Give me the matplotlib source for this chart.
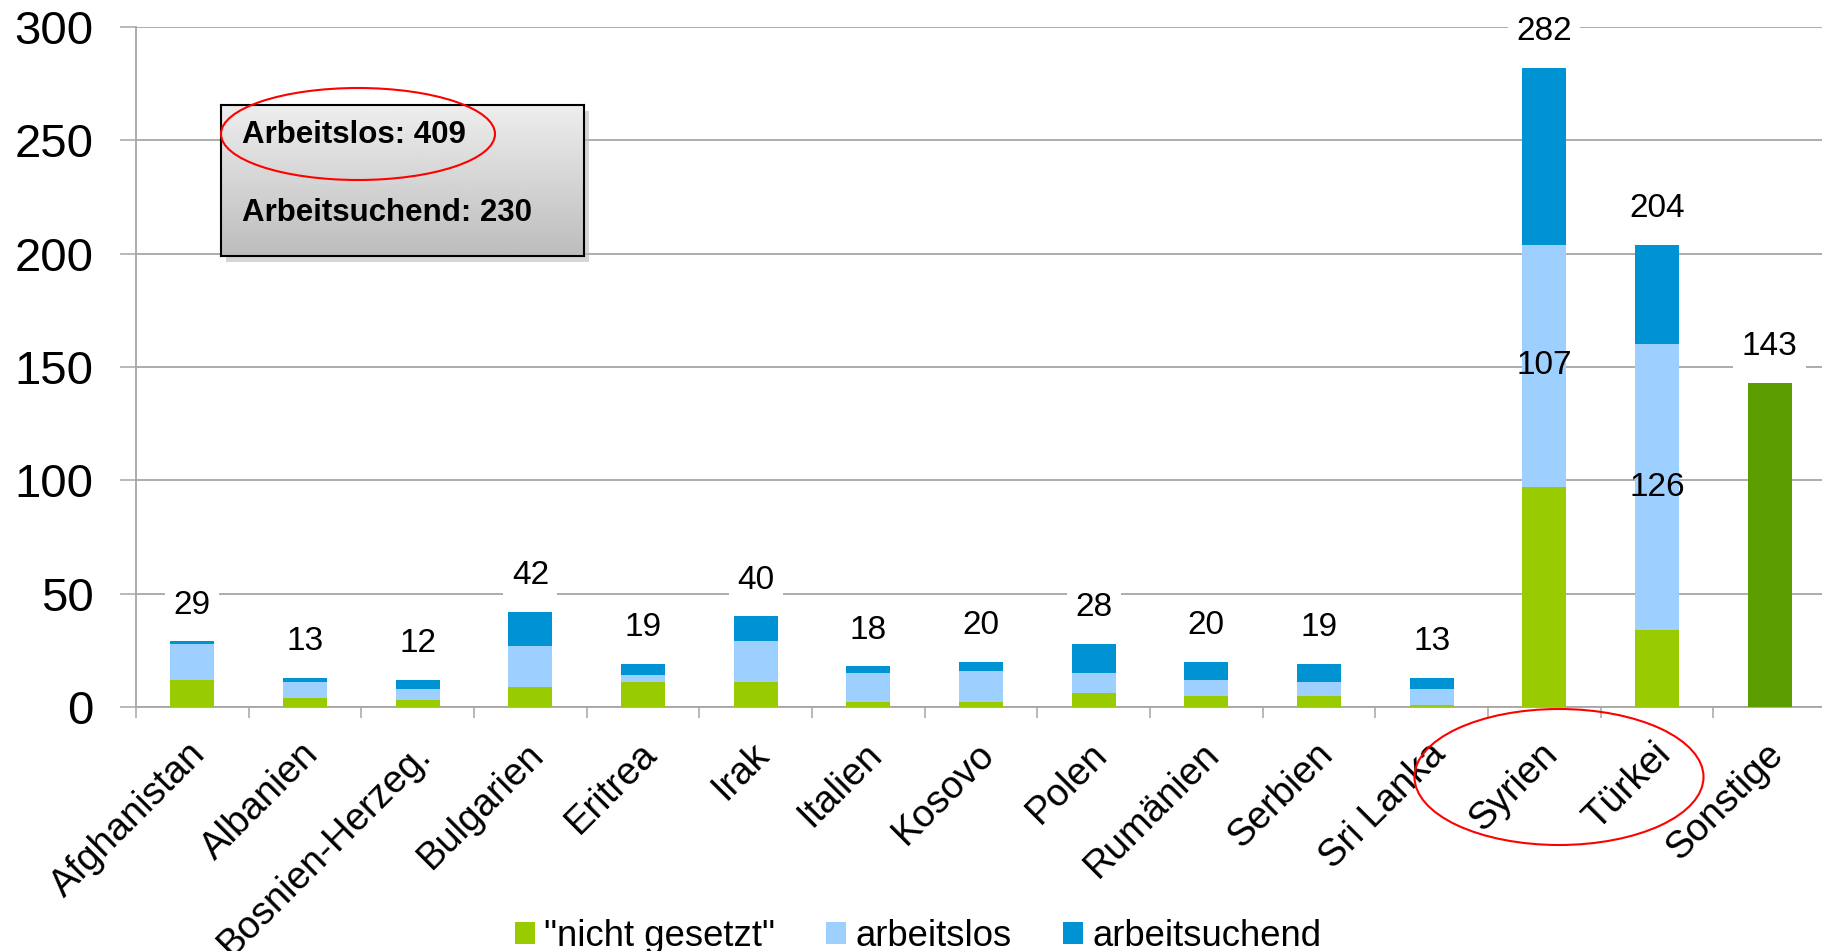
import matplotlib
matplotlib.use("Agg")
import matplotlib.pyplot as plt
import numpy as np
from matplotlib.patches import Ellipse, Rectangle
from matplotlib.transforms import ScaledTranslation

plt.rcParams['font.family'] = ['Liberation Sans', 'DejaVu Sans']

categories = ["Afghanistan", "Albanien", "Bosnien-Herzeg.", "Bulgarien", "Eritrea",
              "Irak", "Italien", "Kosovo", "Polen", "Rumänien", "Serbien",
              "Sri Lanka", "Syrien", "Türkei", "Sonstige"]
nicht_gesetzt = [12, 4, 3, 9, 11, 11, 2, 2, 6, 5, 5, 1, 97, 34, 0]
arbeitslos = [16, 7, 5, 18, 3, 18, 13, 14, 9, 7, 6, 7, 107, 126, 0]
arbeitsuchend = [1, 2, 4, 15, 5, 11, 3, 4, 13, 8, 8, 5, 78, 44, 0]
sonstige = [0, 0, 0, 0, 0, 0, 0, 0, 0, 0, 0, 0, 0, 0, 143]
inner_label_idx = [12, 13]
box_lines = ["Arbeitslos: 409", "Arbeitsuchend: 230"]
yticks = [0, 50, 100, 150, 200, 250, 300]

c_green = "#99cc00"
c_light = "#9dd0ff"
c_dark = "#0093d3"
c_sonst = "#5c9e00"
grid_c = "#a6a6a6"

W, H = 1822, 951
fig = plt.figure(figsize=(W / 100, H / 100), dpi=100)
ax = fig.add_axes([136 / W, 1 - 707 / H, 1690 / W, 680 / H])

x = np.arange(len(categories))
ng = np.array(nicht_gesetzt)
al = np.array(arbeitslos)
asu = np.array(arbeitsuchend)
so = np.array(sonstige)
bw = 0.39
ax.bar(x, ng, bw, color=c_green, label='"nicht gesetzt"', zorder=3)
ax.bar(x, al, bw, bottom=ng, color=c_light, label="arbeitslos", zorder=3)
ax.bar(x, asu, bw, bottom=ng + al, color=c_dark, label="arbeitsuchend", zorder=3)
ax.bar(x, so, bw, bottom=ng + al + asu, color=c_sonst, zorder=3)

totals = ng + al + asu + so
for xi, t in zip(x, totals):
    ax.annotate(str(t), (xi, t), xytext=(0, 26), textcoords="offset points",
                ha="center", va="center", fontsize=24, zorder=5,
                bbox=dict(boxstyle="square,pad=0.25", fc="white", ec="none"))
for i in inner_label_idx:
    ax.text(x[i], ng[i] + al[i] / 2, str(al[i]), ha="center", va="center",
            fontsize=24, zorder=5)

ax.set_xlim(-0.5, len(categories) - 0.5)
ax.set_ylim(0, 300)
ax.set_yticks(yticks)
ax.set_yticklabels([str(v) for v in yticks], fontsize=34)
ax.yaxis.grid(True, color=grid_c, linewidth=1.3, zorder=0)
ax.set_axisbelow(True)
ax.tick_params(axis="y", length=11.5, width=1.1, color=grid_c, pad=19, direction="out")

ax.set_xticks(np.arange(-0.5, len(categories), 1.0))
ax.set_xticklabels([])
ax.tick_params(axis="x", which="major", length=8, width=1.1, color=grid_c, direction="out")
ax.set_xticks(x, minor=True)
ax.set_xticklabels(categories, minor=True, fontsize=27.5, rotation=45,
                   ha="right", va="center", rotation_mode="anchor")
ax.tick_params(axis="x", which="minor", length=0, pad=30)
off = ScaledTranslation(8 / 100, 0, fig.dpi_scale_trans)
for lbl in ax.get_xticklabels(minor=True):
    lbl.set_transform(lbl.get_transform() + off)

for s in ["top", "right"]:
    ax.spines[s].set_visible(False)
for s in ["left", "bottom"]:
    ax.spines[s].set_color(grid_c)
    ax.spines[s].set_linewidth(1.3)

leg = fig.legend(loc="center", bbox_to_anchor=(918 / W, 1 - 936 / H), ncol=3,
                 fontsize=26.3, frameon=False, handlelength=0.55, handleheight=0.55,
                 handletextpad=0.25, columnspacing=1.4)

# gradient info box
bx0, by0, bx1, by1 = 221, 105, 584, 256
shadow = Rectangle(((bx0 + 5) / W, 1 - (by1 + 6) / H), (bx1 - bx0) / W, (by1 - by0) / H,
                   transform=fig.transFigure, fc="#bbbbbb", ec="none", alpha=0.6, zorder=8)
fig.add_artist(shadow)
bax = fig.add_axes([bx0 / W, 1 - by1 / H, (bx1 - bx0) / W, (by1 - by0) / H], zorder=9)
grad = np.linspace(0.93, 0.74, 100).reshape(-1, 1)
bax.imshow(grad, cmap="gray", vmin=0, vmax=1, aspect="auto", extent=[0, 1, 0, 1])
bax.set_xticks([])
bax.set_yticks([])
for s in bax.spines.values():
    s.set_color("black")
    s.set_linewidth(1.5)
fig.text(242 / W, 1 - 135 / H, box_lines[0], fontsize=22.5, fontweight="bold",
         va="center", ha="left", zorder=10)
fig.text(242 / W, 1 - 213 / H, box_lines[1], fontsize=22.5, fontweight="bold",
         va="center", ha="left", zorder=10)

e1 = Ellipse((358 / W, 1 - 134 / H), 274 / W, 92 / H, transform=fig.transFigure,
             fill=False, ec="red", lw=1.5, zorder=11)
e2 = Ellipse((1559 / W, 1 - 777 / H), 289 / W, 136 / H, transform=fig.transFigure,
             fill=False, ec="red", lw=1.5, zorder=11)
fig.add_artist(e1)
fig.add_artist(e2)

fig.savefig("out.png", dpi=100)
